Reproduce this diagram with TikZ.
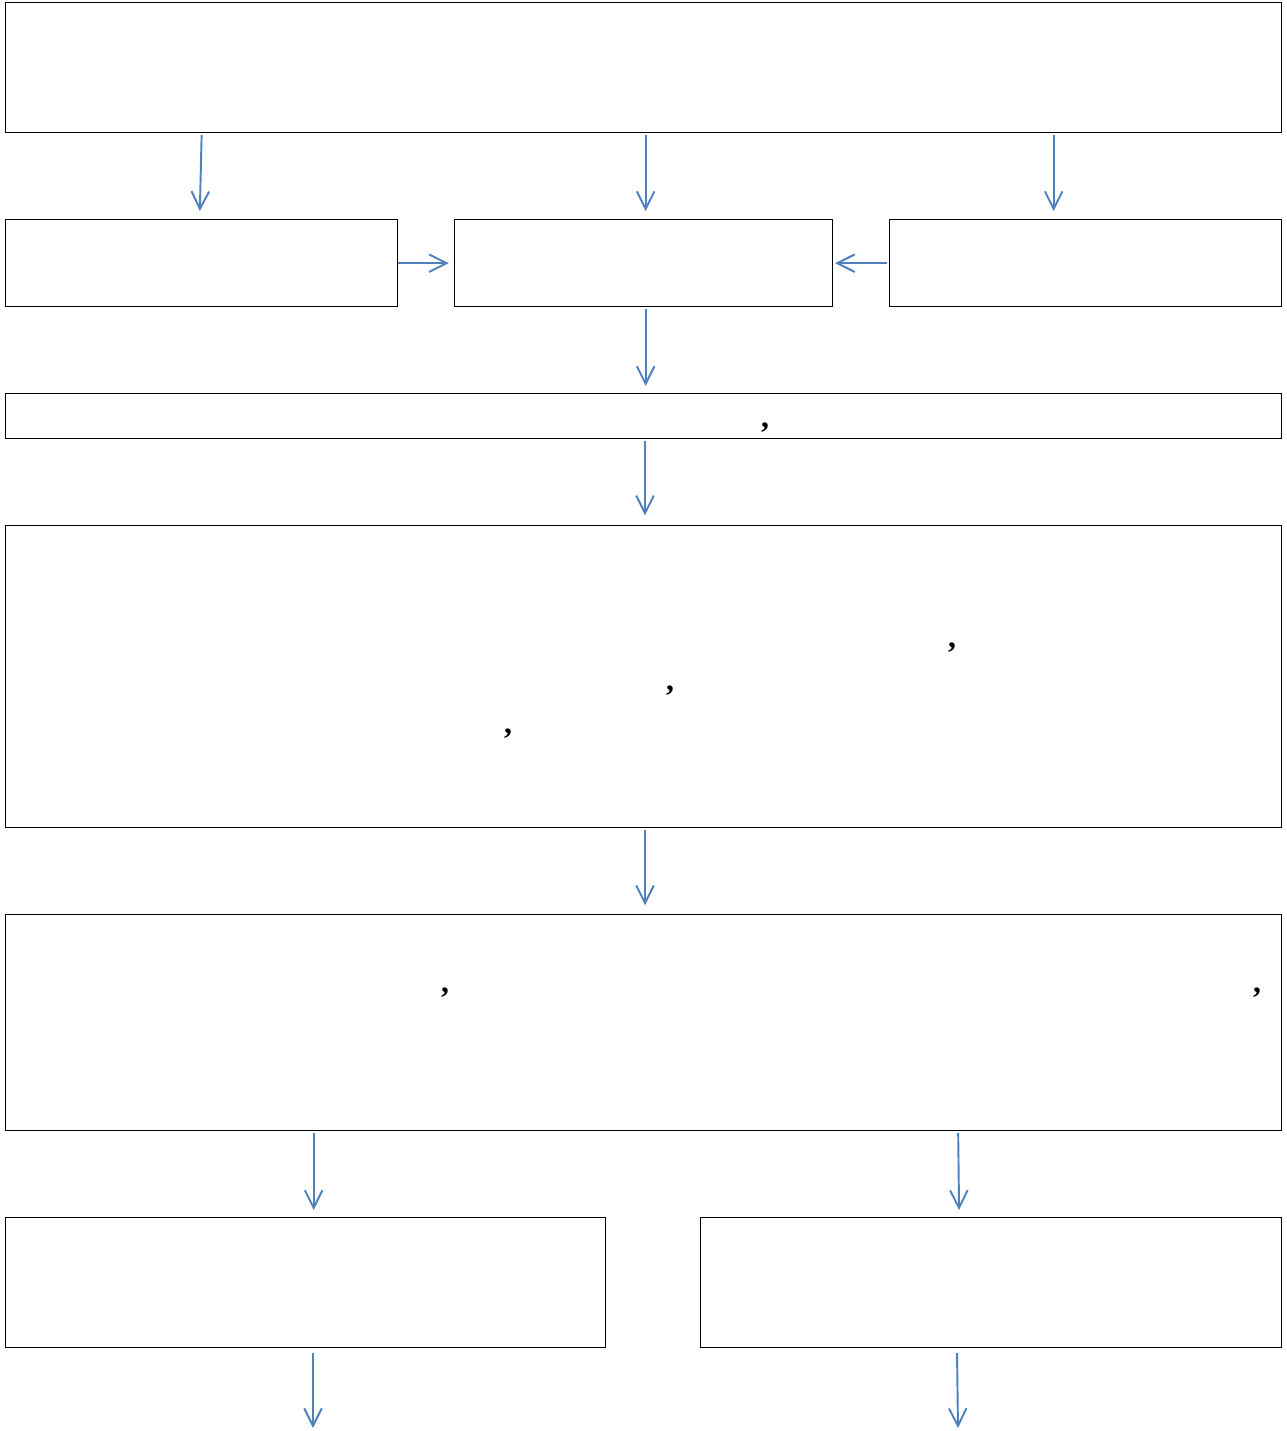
\documentclass[tikz,border=0pt]{standalone}
\usepackage{fontspec}
\setmainfont{Liberation Serif}
\usetikzlibrary{arrows.meta}
\definecolor{flowblue}{HTML}{4F81BD}
\begin{document}
\begin{tikzpicture}[x=0.02cm,y=-0.02cm,
  box/.style={draw,line width=0.8pt,anchor=north west,inner sep=0pt},
  arr/.style={flowblue,line width=1.1pt,-{Straight Barb[length=10pt,width=10pt,line width=1.1pt]},shorten <=1pt},
  punct/.style={inner sep=0pt,font=\fontsize{18}{22}\selectfont\bfseries}]
\useasboundingbox (0,0) rectangle (1286,1431);
% boxes
\node[box,minimum width=25.52cm,minimum height=2.6cm] (top) at (5,2) {};
\node[box,minimum width=7.84cm,minimum height=1.74cm] (left) at (5,219) {};
\node[box,minimum width=7.56cm,minimum height=1.74cm] (mid) at (454,219) {};
\node[box,minimum width=7.84cm,minimum height=1.74cm] (right) at (889,219) {};
\node[box,minimum width=25.52cm,minimum height=0.9cm] (bar) at (5,393) {};
\node[box,minimum width=25.52cm,minimum height=6.04cm] (big) at (5,525) {};
\node[box,minimum width=25.52cm,minimum height=4.32cm] (wide) at (5,914) {};
\node[box,minimum width=12cm,minimum height=2.6cm] (botl) at (5,1217) {};
\node[box,minimum width=11.62cm,minimum height=2.6cm] (botr) at (700,1217) {};
% commas
\node[punct] (c1) at (765,428) {,};
\node[punct] (c2) at (952,648) {,};
\node[punct] (c3) at (670,691) {,};
\node[punct] (c4) at (508,734) {,};
\node[punct] (c5) at (445,993) {,};
\node[punct] (c6) at (1257,993) {,};
% free ends
\coordinate (outl) at (313,1428);
\coordinate (outr) at (958,1428);
% arrows
\draw[arr,shorten >=4.5pt] (top.south -| left.north) -- ([xshift=-0.04cm]left.north);
\draw[arr,shorten >=4.5pt] ([xshift=0.04cm]top.south -| mid.north) -- ([xshift=0.04cm]mid.north);
\draw[arr,shorten >=4.5pt] ([xshift=-0.64cm]top.south -| right.north) -- ([xshift=-0.64cm]right.north);
\draw[arr,shorten >=3pt] ([xshift=-0.05cm]left.east) -- (mid.west);
\draw[arr,shorten >=1pt] (right.west) -- (mid.east);
\draw[arr,shorten >=4pt] ([xshift=0.04cm]mid.south) -- ([xshift=0.04cm]mid.south |- bar.north);
\draw[arr,shorten >=5.5pt] (bar.south -| c1) ++(-2.4cm,0) coordinate (bs) (bs) -- (bs |- big.north);
\draw[arr,shorten >=5pt] (bs |- big.south) -- (bs |- wide.north);
\draw[arr,shorten >=4pt] ([xshift=0.16cm]wide.south -| botl.north) -- ([xshift=0.16cm]botl.north);
\draw[arr,shorten >=4pt] ([xshift=-0.66cm]wide.south -| botr.north) -- ([xshift=-0.64cm]botr.north);
\draw[arr,shorten >=0pt] (outl |- botl.south) ++(0,3) -- (outl);
\draw[arr,shorten >=0pt] (outr |- botr.south) ++(-1,3) -- (outr);
\end{tikzpicture}
\end{document}
